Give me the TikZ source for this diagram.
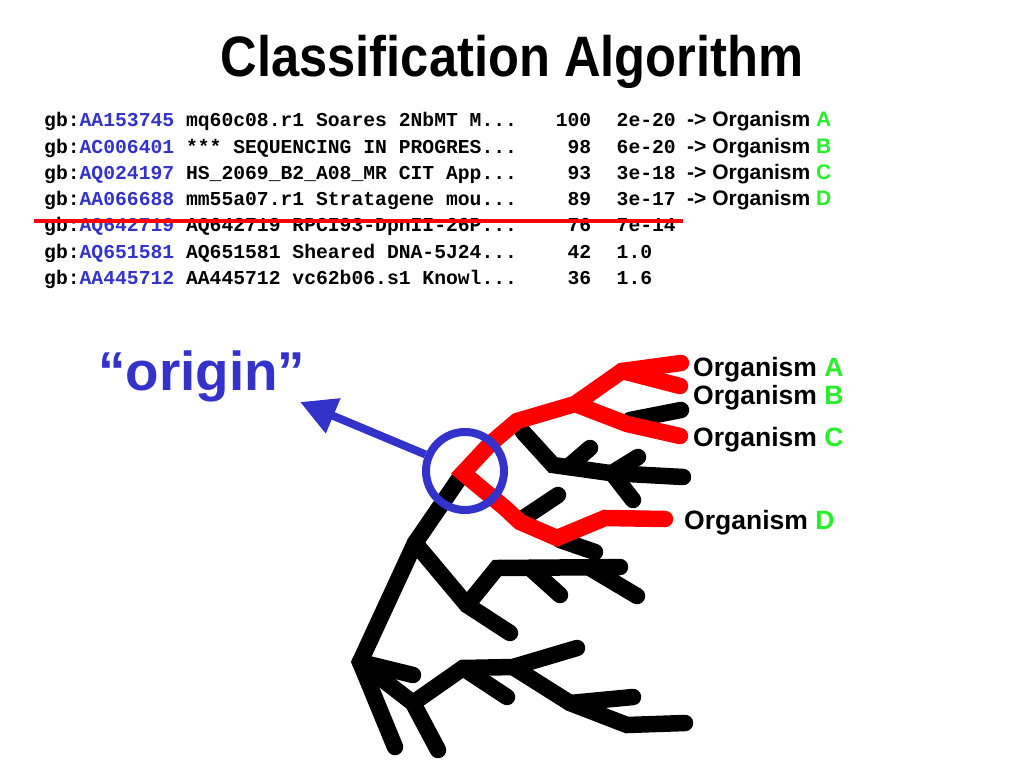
\documentclass[tikz,border=0pt]{standalone}
\usepackage{fontspec}
\setmainfont{Liberation Sans}
\newfontfamily\monofont{Liberation Mono}
\usetikzlibrary{arrows.meta}
\definecolor{accblue}{RGB}{51,51,204}
\definecolor{orggreen}{RGB}{40,240,40}
\begin{document}
\begin{tikzpicture}[x=1pt,y=-1pt,
  tree/.style={line width=16.5pt, line cap=round, line join=miter},
  rowtxt/.style={anchor=base west, inner sep=0pt, font=\monofont\bfseries\fontsize{19.7}{22}\selectfont},
  numtxt/.style={anchor=base east, inner sep=0pt, font=\monofont\bfseries\fontsize{19.7}{22}\selectfont},
  evtxt/.style={anchor=base west, inner sep=0pt, font=\monofont\bfseries\fontsize{19.7}{22}\selectfont},
  maptxt/.style={anchor=base west, inner sep=0pt, font=\bfseries\fontsize{21}{24}\selectfont},
  orgtxt/.style={anchor=base west, inner sep=0pt, font=\bfseries\fontsize{26.5}{30}\selectfont}]
\useasboundingbox (0,0) rectangle (1024,768);

% title
\node[anchor=base, inner sep=0pt] (title) at (512,77)
  {\fontsize{57}{62}\selectfont\bfseries\scalebox{0.889}[1]{Classification Algorithm}};

% table rows
\node[rowtxt] (r1) at (44,126.7) {gb:\textcolor{accblue}{AA153745} mq60c08.r1 Soares 2NbMT M...};
\node[rowtxt] (r2) at (44,153.0) {gb:\textcolor{accblue}{AC006401} *** SEQUENCING IN PROGRES...};
\node[rowtxt] (r3) at (44,179.3) {gb:\textcolor{accblue}{AQ024197} HS\_2069\_B2\_A08\_MR CIT App...};
\node[rowtxt] (r4) at (44,205.6) {gb:\textcolor{accblue}{AA066688} mm55a07.r1 Stratagene mou...};
\node[rowtxt] (r5) at (44,231.9) {gb:\textcolor{accblue}{AQ642719} AQ642719 RPCI93-DpnII-26P...};
\node[rowtxt] (r6) at (44,258.2) {gb:\textcolor{accblue}{AQ651581} AQ651581 Sheared DNA-5J24...};
\node[rowtxt] (r7) at (44,284.5) {gb:\textcolor{accblue}{AA445712} AA445712 vc62b06.s1 Knowl...};

\node[numtxt] (n1) at (591.5,126.7) {100};
\node[numtxt] (n2) at (591.5,153.0) {98};
\node[numtxt] (n3) at (591.5,179.3) {93};
\node[numtxt] (n4) at (591.5,205.6) {89};
\node[numtxt] (n5) at (591.5,231.9) {76};
\node[numtxt] (n6) at (591.5,258.2) {42};
\node[numtxt] (n7) at (591.5,284.5) {36};

\node[evtxt] (e1) at (616.5,126.7) {2e-20};
\node[evtxt] (e2) at (616.5,153.0) {6e-20};
\node[evtxt] (e3) at (616.5,179.3) {3e-18};
\node[evtxt] (e4) at (616.5,205.6) {3e-17};
\node[evtxt] (e5) at (616.5,231.9) {7e-14};
\node[evtxt] (e6) at (616.5,258.2) {1.0};
\node[evtxt] (e7) at (616.5,284.5) {1.6};

\node[maptxt] (m1) at (687,126.7) {-> Organism \textcolor{orggreen}{A}};
\node[maptxt] (m2) at (687,153.0) {-> Organism \textcolor{orggreen}{B}};
\node[maptxt] (m3) at (687,179.3) {-> Organism \textcolor{orggreen}{C}};
\node[maptxt] (m4) at (687,205.6) {-> Organism \textcolor{orggreen}{D}};

% cut-off line
\coordinate (cutL) at (34,221);
\coordinate (cutR) at (683,221);
\draw[red, line width=4.5pt] (cutL) -- (cutR);

% black tree
\draw[tree] (463,473) -- (415,543) -- (360,662) -- (395,747);
\draw[tree] (415,543) -- (467,605) -- (510,633);
\draw[tree] (467,605) -- (497,568) -- (620,567);
\draw[tree] (530,568) -- (560,595);
\draw[tree] (590,568) -- (637,596);
\draw[tree] (360,662) -- (413,675);
\draw[tree] (360,662) -- (413,703) -- (438,750);
\draw[tree] (413,703) -- (463,668) -- (513,667) -- (577,648);
\draw[tree] (463,668) -- (507,697);
\draw[tree] (513,667) -- (570,703) -- (627,725) -- (685,723);
\draw[tree] (570,703) -- (633,697);
\draw[tree] (523,432) -- (553,465) -- (610,473) -- (683,477);
\draw[tree] (568,467) -- (590,448);
\draw[tree] (612,473) -- (638,457);
\draw[tree] (612,473) -- (633,500);
\draw[tree] (630,420) -- (681,410);
\draw[tree] (525,517) -- (558,495);
\draw[tree] (560,540) -- (595,552);

% red path
\draw[tree, red] (681,363) -- (622,371) -- (575,404) -- (517,421) -- (490,444) -- (463,473)
  -- (505,508) -- (520,522) -- (557,538) -- (605,518) -- (665,519);
\draw[tree, red] (622,371) -- (680,386);
\draw[tree, red] (575,404) -- (627,424) -- (680,436);

% origin marker
\node[draw=accblue, line width=8pt, circle, minimum size=78pt, inner sep=0pt] (circ) at (465,471) {};
\coordinate (tip) at (300,402);
\draw[accblue, line width=8pt, -{Triangle[length=36pt,width=36pt]}] (circ) -- (tip);
\node[anchor=base west, inner sep=0pt, text=accblue] (origin) at (98,390)
  {\fontsize{54.8}{60}\selectfont\bfseries “origin”};

% organism labels
\node[orgtxt] (oA) at (693,376.5) {Organism \textcolor{orggreen}{A}};
\node[orgtxt] (oB) at (693,404) {Organism \textcolor{orggreen}{B}};
\node[orgtxt] (oC) at (693,446) {Organism \textcolor{orggreen}{C}};
\node[orgtxt] (oD) at (684,529.5) {Organism \textcolor{orggreen}{D}};
\end{tikzpicture}
\end{document}
